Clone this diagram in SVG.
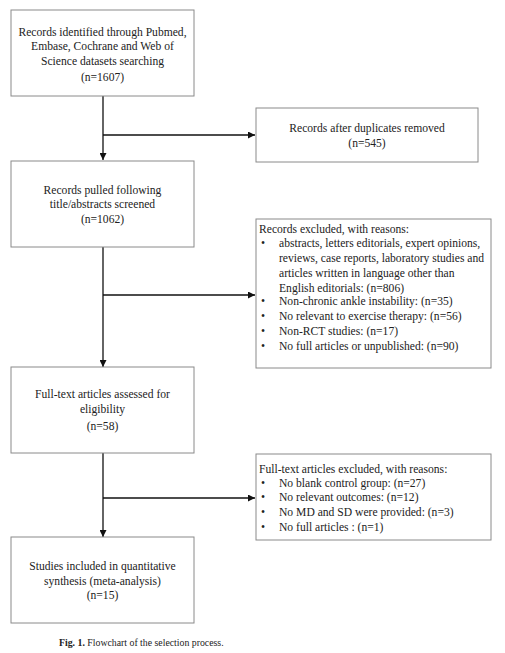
<svg xmlns="http://www.w3.org/2000/svg" width="505" height="653" viewBox="0 0 505 653">
<style>
.box{fill:#fff;stroke:#8a8a8a;stroke-width:1}
.t{font-family:"Liberation Serif","Times New Roman",serif;font-size:11.6px;fill:#222}
.c{text-anchor:middle}
.ln{stroke:#111;stroke-width:1.3;fill:none}
.cap{font-family:"Liberation Serif","Times New Roman",serif;font-size:9.8px;fill:#222}
</style>
<defs>
<marker id="ah" viewBox="0 0 10 10" refX="10" refY="5" markerWidth="7" markerHeight="7" markerUnits="userSpaceOnUse" orient="auto">
<path d="M0,0 L10,5 L0,10 z" fill="#111"/>
</marker>
</defs>
<rect width="505" height="653" fill="#fff"/>
<g id="connectors">
<path class="ln" d="M103,96 V160" marker-end="url(#ah)"/>
<path class="ln" d="M103,135 H255" marker-end="url(#ah)"/>
<path class="ln" d="M103,247 V367" marker-end="url(#ah)"/>
<path class="ln" d="M103,295 H255" marker-end="url(#ah)"/>
<path class="ln" d="M103,453 V537" marker-end="url(#ah)"/>
<path class="ln" d="M103,498 H255" marker-end="url(#ah)"/>
</g>
<g id="n1">
<rect class="box" x="11" y="10" width="183" height="86"/>
<text class="t c" x="102.5" y="36">Records identified through Pubmed,</text>
<text class="t c" x="102.5" y="50">Embase, Cochrane and Web of</text>
<text class="t c" x="102.5" y="65">Science datasets searching</text>
<text class="t c" x="102.5" y="81">(n=1607)</text>
</g>
<g id="n2">
<rect class="box" x="256" y="108" width="222" height="54"/>
<text class="t c" x="367" y="132">Records after duplicates removed</text>
<text class="t c" x="367" y="147">(n=545)</text>
</g>
<g id="n3">
<rect class="box" x="11" y="161" width="183" height="86"/>
<text class="t c" x="102.5" y="194">Records pulled following</text>
<text class="t c" x="102.5" y="208">title/abstracts screened</text>
<text class="t c" x="102.5" y="223">(n=1062)</text>
</g>
<g id="n4">
<rect class="box" x="256" y="219" width="235" height="149"/>
<text class="t" x="259" y="233">Records excluded, with reasons:</text>
<text class="t" x="261" y="247">•</text>
<text class="t" x="279" y="247">abstracts, letters editorials, expert opinions,</text>
<text class="t" x="279" y="262">reviews, case reports, laboratory studies and</text>
<text class="t" x="279" y="277">articles written in language other than</text>
<text class="t" x="279" y="292">English editorials: (n=806)</text>
<text class="t" x="261" y="305">•</text>
<text class="t" x="279" y="305">Non-chronic ankle instability: (n=35)</text>
<text class="t" x="261" y="320">•</text>
<text class="t" x="279" y="320">No relevant to exercise therapy: (n=56)</text>
<text class="t" x="261" y="335">•</text>
<text class="t" x="279" y="335">Non-RCT studies: (n=17)</text>
<text class="t" x="261" y="350">•</text>
<text class="t" x="279" y="350">No full articles or unpublished: (n=90)</text>
</g>
<g id="n5">
<rect class="box" x="11" y="367" width="183" height="86"/>
<text class="t c" x="102.5" y="398">Full-text articles assessed for</text>
<text class="t c" x="102.5" y="413">eligibility</text>
<text class="t c" x="102.5" y="430">(n=58)</text>
</g>
<g id="n6">
<rect class="box" x="256" y="454" width="235" height="86"/>
<text class="t" x="259" y="473">Full-text articles excluded, with reasons:</text>
<text class="t" x="261" y="487">•</text>
<text class="t" x="279" y="487">No blank control group: (n=27)</text>
<text class="t" x="261" y="501">•</text>
<text class="t" x="279" y="501">No relevant outcomes: (n=12)</text>
<text class="t" x="261" y="516">•</text>
<text class="t" x="279" y="516">No MD and SD were provided: (n=3)</text>
<text class="t" x="261" y="531">•</text>
<text class="t" x="279" y="531">No full articles : (n=1)</text>
</g>
<g id="n7">
<rect class="box" x="11" y="537" width="183" height="86"/>
<text class="t c" x="102.5" y="570">Studies included in quantitative</text>
<text class="t c" x="102.5" y="585">synthesis (meta-analysis)</text>
<text class="t c" x="102.5" y="599">(n=15)</text>
</g>
<text class="cap" x="59" y="646"><tspan font-weight="bold">Fig. 1.</tspan>  Flowchart of the selection process.</text>
</svg>
